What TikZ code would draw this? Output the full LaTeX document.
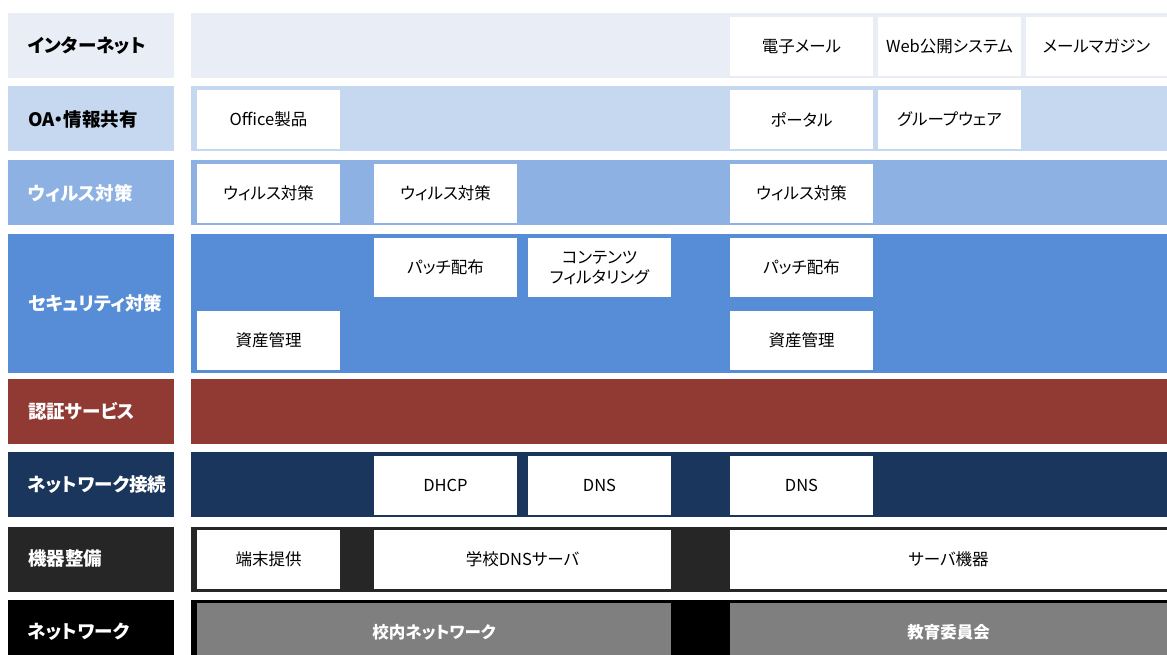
\documentclass[tikz,border=0pt]{standalone}
\usepackage{fontspec}
\setmainfont{Noto Sans CJK JP}[RawFeature=+palt]
\definecolor{inetC}{HTML}{E9EEF6}
\definecolor{oaC}{HTML}{C6D8EF}
\definecolor{virusC}{HTML}{8DB1E3}
\definecolor{secC}{HTML}{568DD6}
\definecolor{authC}{HTML}{913A34}
\definecolor{netcC}{HTML}{1A365C}
\definecolor{equipC}{HTML}{262626}
\definecolor{netC}{HTML}{000000}
\definecolor{netgray}{HTML}{7F7F7F}
\begin{document}
\begin{tikzpicture}[
    x=1pt, y=-1pt,
    rowname/.style={rectangle, inner sep=0pt, inner xsep=20pt, text width=126pt, minimum height=65pt, align=left, font=\fontsize{18.5}{21}\selectfont\bfseries},
    band/.style={rectangle, inner sep=0pt, minimum width=976pt, minimum height=65pt},
    cell/.style={rectangle, fill=white, inner sep=0pt, minimum width=143pt, minimum height=59pt, align=center, font=\fontsize{16.5}{20}\selectfont}
]
    \clip (0,0) rectangle (1167,655);
    \fill[white] (0,0) rectangle (1167,655);

    % Layer names and bands
    \foreach \i/\y/\c/\t/\txt in {1/46/inetC/black/インターネット, 2/119/oaC/black/OA・情報共有, 3/193/virusC/white/ウィルス対策, 5/411/authC/white/認証サービス, 6/484.5/netcC/white/ネットワーク接続, 7/559/equipC/white/機器整備, 8/632/netC/white/ネットワーク} {
        \node[rowname, fill=\c, text=\t] (row\i) at (91,\y) {\txt};
        \node[band, fill=\c] (band\i) at (679,\y) {};
    }
    \node[rowname, fill=secC, text=white, minimum height=138.5pt] (row4) at (91,303.25) {セキュリティ対策};
    \node[band, fill=secC, minimum height=138.5pt] (band4) at (679,303.25) {};

    % Internet
    \node[cell] (mail) at (801.5,46.5) {電子メール};
    \node[cell] (webpub) at (949.5,46.5) {Web公開システム};
    \node[cell, minimum width=141pt] (mailmag) at (1096.5,46.5) {メールマガジン};

    % OA
    \node[cell] (office) at (268.5,119.5) {Office製品};
    \node[cell] (portal) at (801.5,119.5) {ポータル};
    \node[cell] (groupware) at (949.5,119.5) {グループウェア};

    % Virus
    \node[cell] (virusA) at (268.5,193.5) {ウィルス対策};
    \node[cell] (virusB) at (445.5,193.5) {ウィルス対策};
    \node[cell] (virusD) at (801.5,193.5) {ウィルス対策};

    % Security
    \node[cell] (patchB) at (445.5,267.5) {パッチ配布};
    \node[cell] (filter) at (599.5,267.5) {コンテンツ\\フィルタリング};
    \node[cell] (patchD) at (801.5,267.5) {パッチ配布};
    \node[cell] (assetA) at (268.5,340.5) {資産管理};
    \node[cell] (assetD) at (801.5,340.5) {資産管理};

    % Network connection
    \node[cell] (dhcp) at (445.5,485) {DHCP};
    \node[cell] (dnsC) at (599.5,485) {DNS};
    \node[cell] (dnsD) at (801.5,485) {DNS};

    % Equipment
    \node[cell] (terminal) at (268.5,559.5) {端末提供};
    \node[cell, minimum width=297pt] (schooldns) at (522.5,559.5) {学校DNSサーバ};
    \node[cell, minimum width=437pt] (server) at (948.5,559.5) {サーバ機器};

    % Network
    \node[cell, fill=netgray, text=white, minimum width=474pt, minimum height=58pt, font=\fontsize{16.5}{20}\selectfont\bfseries] (campus) at (434,632) {校内ネットワーク};
    \node[cell, fill=netgray, text=white, minimum width=437pt, minimum height=58pt, font=\fontsize{16.5}{20}\selectfont\bfseries] (board) at (948.5,632) {教育委員会};
\end{tikzpicture}
\end{document}
